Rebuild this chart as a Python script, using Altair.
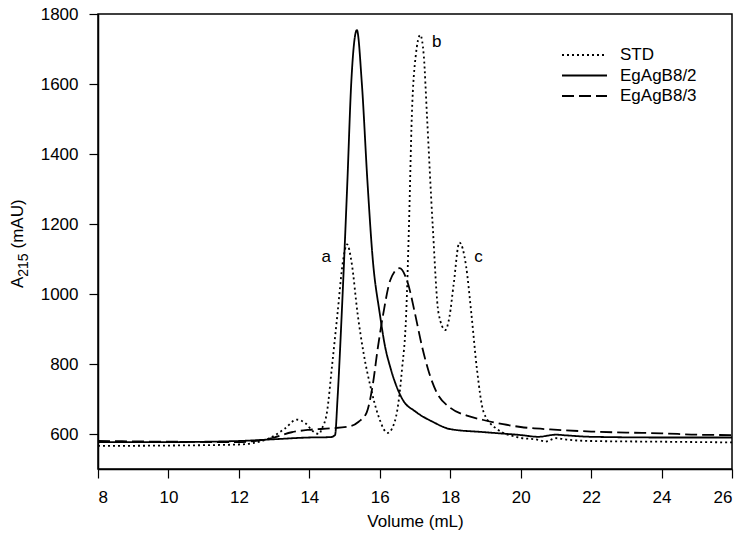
import altair as alt
import pandas as pd

# STD (dotted)
std_x = [8, 10, 12, 12.8, 13.3, 13.64, 13.9, 14.1, 14.28, 14.35, 14.5, 14.65, 14.8, 14.95, 15.07, 15.2,
         15.37, 15.54, 15.73, 15.96, 16.22, 16.39, 16.53, 16.63, 16.75, 16.83, 16.91, 17.02, 17.15, 17.25,
         17.34, 17.5, 17.67, 17.86, 17.98, 18.1, 18.26, 18.45, 18.6, 18.76, 18.95, 19.33, 19.9, 20.56,
         20.7, 21.0, 21.3, 22, 24, 26]
std_y = [566, 567, 570, 585, 615, 641, 630, 608, 600, 614, 662, 800, 944, 1090, 1142, 1090,
         944, 831, 738, 652, 603, 625, 690, 784, 944, 1200, 1509, 1680, 1740, 1680,
         1509, 1200, 944, 897, 936, 1030, 1147, 1080, 944, 784, 662, 614, 591, 582,
         578, 588, 584, 580, 578, 576]

# EgAgB8/2 (solid)
s2_x = [8, 10, 12, 13, 14, 14.6, 14.73, 14.8, 14.92, 15.08, 15.19, 15.35, 15.49, 15.65, 15.8, 16.0,
        16.15, 16.3, 16.5, 16.67, 17.0, 17.5, 18, 19, 20, 20.5, 21, 21.3, 22, 24, 26]
s2_y = [577, 577, 580, 585, 590, 591, 597, 700, 944, 1321, 1603, 1754, 1603, 1321, 1100, 944,
        850, 790, 730, 695, 665, 635, 614, 605, 597, 592, 598, 596, 592, 590, 590]

# EgAgB8/3 (dashed)
s3_x = [8, 10, 12, 13, 13.5, 14, 14.6, 15.16, 15.4, 15.63, 15.8, 15.95, 16.1, 16.3, 16.56, 16.8, 17.0,
        17.2, 17.4, 17.62, 18.0, 18.5, 18.94, 19.5, 20, 20.84, 22, 23, 24, 25, 26]
s3_y = [580, 578, 577, 590, 605, 612, 616, 622, 635, 662, 740, 850, 944, 1040, 1074, 1030, 944,
        850, 775, 718, 675, 652, 640, 628, 620, 613, 607, 604, 602, 598, 597]

series_names = ["STD", "EgAgB8/2", "EgAgB8/3"]
dash_styles = [[2, 3], [1, 0], [12, 5]]

# peak labels
lab_text = ["a", "b", "c"]
lab_x = [14.48, 17.62, 18.8]
lab_y = [1105, 1721, 1105]

# y-axis title pieces (A with subscript 215)
ytitle_parts = ["A", "215", "(mAU)"]

rows = []
for name, xs_, ys_ in zip(series_names, [std_x, s2_x, s3_x], [std_y, s2_y, s3_y]):
    for i, (xv, yv) in enumerate(zip(xs_, ys_)):
        rows.append({"series": name, "vol": xv, "abs": yv, "order": i})
df = pd.DataFrame(rows)
lab_df = pd.DataFrame({"t": lab_text, "vol": lab_x, "abs": lab_y})

FONT = "Liberation Sans"
FS = 17

xs = alt.Scale(domain=[8, 26], nice=False, zero=False)
ys = alt.Scale(domain=[500, 1800], nice=False, zero=False)

lines = alt.Chart(df).mark_line(color="black", strokeWidth=1.8, interpolate="monotone", strokeCap="butt").encode(
    x=alt.X("vol:Q", scale=xs, title="Volume (mL)",
            axis=alt.Axis(values=list(range(8, 27, 2)), format="d")),
    y=alt.Y("abs:Q", scale=ys, title=None,
            axis=alt.Axis(values=list(range(600, 1801, 200)), format="d")),
    order="order:Q",
    detail="series:N",
    strokeDash=alt.StrokeDash("series:N",
                              scale=alt.Scale(domain=series_names, range=dash_styles),
                              legend=None),
)

labels = alt.Chart(lab_df).mark_text(font=FONT, fontSize=FS, color="black").encode(
    x=alt.X("vol:Q", scale=xs),
    y=alt.Y("abs:Q", scale=ys),
    text="t:N",
)

# manual legend
legend_layers = []
row_y = [41, 61.5, 82]
for name, dash, ry in zip(series_names, dash_styles, row_y):
    d = pd.DataFrame({"name": [name]})
    legend_layers.append(
        alt.Chart(d).mark_rule(color="black", strokeWidth=1.8, strokeDash=dash, strokeCap="butt").encode(
            x=alt.value(464), x2=alt.value(509), y=alt.value(ry)
        )
    )
    legend_layers.append(
        alt.Chart(d).mark_text(font=FONT, fontSize=FS, color="black", align="left", baseline="middle").encode(
            x=alt.value(522), y=alt.value(ry), text="name:N"
        )
    )

# y-axis title with subscript
tdf = pd.DataFrame({"t": ytitle_parts})
title_layers = [
    alt.Chart(tdf.iloc[[0]]).mark_text(font=FONT, fontSize=FS, color="black", angle=270,
                                       align="left", baseline="middle").encode(
        x=alt.value(-80), y=alt.value(274), text="t:N"),
    alt.Chart(tdf.iloc[[1]]).mark_text(font=FONT, fontSize=14, color="black", angle=270,
                                       align="left", baseline="middle").encode(
        x=alt.value(-74), y=alt.value(262.7), text="t:N"),
    alt.Chart(tdf.iloc[[2]]).mark_text(font=FONT, fontSize=FS, color="black", angle=270,
                                       align="left", baseline="middle").encode(
        x=alt.value(-80), y=alt.value(234.5), text="t:N"),
]

chart = alt.layer(lines, labels, *legend_layers, *title_layers).properties(
    width=634, height=455,
    autosize=alt.AutoSizeParams(type="none"),
    padding={"left": 90, "top": 6, "right": 5, "bottom": 63},
).configure_view(
    stroke="black", strokeWidth=1.5
).configure_axis(
    grid=False, domainColor="black", domainWidth=1.5, tickColor="black", tickWidth=1.2,
    tickSize=9, labelFont=FONT, labelFontSize=FS, labelColor="black", labelPadding=11,
    titleFont=FONT, titleFontSize=FS, titleFontWeight="normal", titleColor="black",
).configure_axisX(
    titlePadding=8
)

chart.save("out.html", embed_options={"renderer": "svg", "actions": False})
